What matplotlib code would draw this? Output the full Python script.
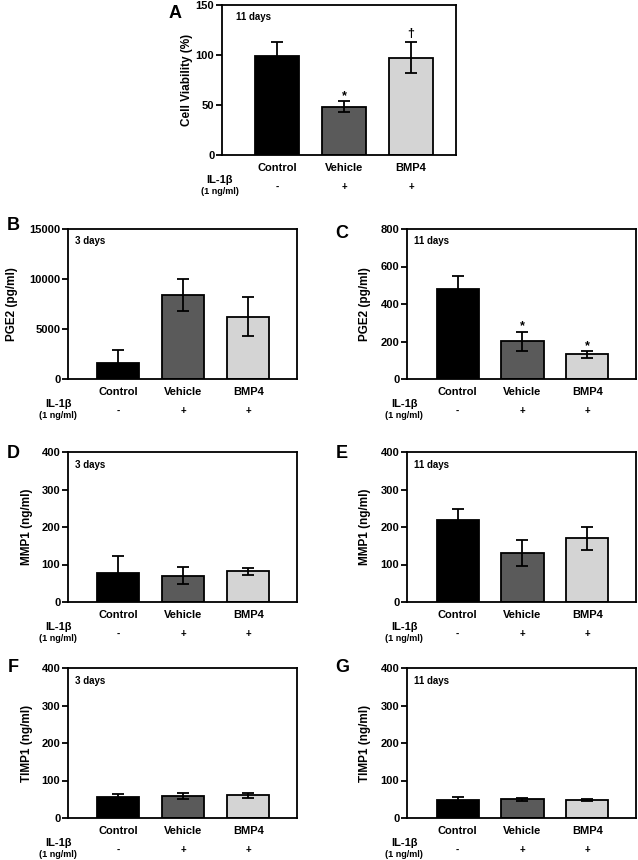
import matplotlib
matplotlib.use("Agg")
import matplotlib.pyplot as plt

plt.rcParams['font.family'] = ['Liberation Sans', 'DejaVu Sans']
plt.rcParams['font.weight'] = 'bold'

groups = ["Control", "Vehicle", "BMP4"]
il1b_signs = ["-", "+", "+"]
colors = ["#000000", "#5a5a5a", "#d4d4d4"]

# panel data: mean, sem
viab_mean = [99.5, 48.5, 97.5]
viab_err = [13.5, 5.5, 15.5]
pge2_3d_mean = [1600, 8450, 6250]
pge2_3d_err = [1290, 1600, 1950]
pge2_11d_mean = [482, 202, 131]
pge2_11d_err = [68, 51, 17]
mmp1_3d_mean = [77, 70, 82]
mmp1_3d_err = [46, 23, 9]
mmp1_11d_mean = [219, 131, 170]
mmp1_11d_err = [28, 35, 30]
timp1_3d_mean = [56, 58.5, 61]
timp1_3d_err = [8, 8, 7]
timp1_11d_mean = [48, 50.5, 49]
timp1_11d_err = [7, 4, 3]

W, H = 638, 860
fig = plt.figure(figsize=(W / 100, H / 100), dpi=100)


def px_axes(left, top, right, bottom):
    return fig.add_axes([left / W, 1 - bottom / H, (right - left) / W, (bottom - top) / H])


def panel(ax, means, errs, ymax, yticks, ylabel, days, xlim, il_x, lab_off,
          days_x=0.03, marks=None):
    x = list(range(len(groups)))
    ax.bar(x, means, width=0.65, color=colors, edgecolor="black", linewidth=1.3, zorder=2)
    ax.errorbar(x, means, yerr=errs, fmt="none", ecolor="black", elinewidth=1.3,
                capsize=4.6, capthick=1.3, zorder=3)
    ax.set_xlim(*xlim)
    ax.set_ylim(0, ymax)
    ax.set_yticks(yticks)
    ax.set_yticklabels([str(t) for t in yticks], fontsize=8, fontweight="bold")
    ax.set_xticks([])
    for s in ax.spines.values():
        s.set_linewidth(1.3)
    ax.tick_params(axis="y", length=4, width=1.3, pad=1.5)
    ax.set_ylabel(ylabel, fontsize=8.5, fontweight="bold")
    ax.yaxis.set_label_coords(lab_off, 0.5)
    ax.text(days_x, 0.95, days, transform=ax.transAxes, fontsize=7, fontweight="bold",
            va="top", ha="left")
    xt = ax.get_xaxis_transform()
    for xi, g, sg in zip(x, groups, il1b_signs):
        ax.text(xi, -0.085, g, transform=xt, ha="center", va="center",
                fontsize=8, fontweight="bold", clip_on=False)
        ax.text(xi, -0.215, sg, transform=xt, ha="center", va="center",
                fontsize=7, fontweight="bold", clip_on=False)
    ax.text(il_x, -0.165, "IL-1β", transform=xt, ha="center", va="center",
            fontsize=8, fontweight="bold", clip_on=False)
    ax.text(il_x, -0.245, "(1 ng/ml)", transform=xt, ha="center", va="center",
            fontsize=6.5, fontweight="bold", clip_on=False)
    if marks:
        for xi, (sym, yv) in marks.items():
            ax.text(xi, yv, sym, ha="center", va="center", fontsize=9, fontweight="bold")
    return ax


def letter(x, y, s):
    fig.text(x / W, 1 - y / H, s, fontsize=13, fontweight="bold", ha="center", va="center")


axA = px_axes(222, 5, 456, 155)
panel(axA, viab_mean, viab_err, 150, [0, 50, 100, 150], "Cell Viability (%)", "11 days",
      (-0.82, 2.67), -0.85, -0.124, days_x=0.06, marks={1: ("*", 59), 2: ("†", 121)})
letter(175, 13, "A")

axB = px_axes(68, 229, 297, 379)
panel(axB, pge2_3d_mean, pge2_3d_err, 15000, [0, 5000, 10000, 15000], "PGE2 (pg/ml)", "3 days",
      (-0.77, 2.75), -0.92, -0.218)
letter(13, 226, "B")

axC = px_axes(407, 229, 636, 379)
panel(axC, pge2_11d_mean, pge2_11d_err, 800, [0, 200, 400, 600, 800], "PGE2 (pg/ml)", "11 days",
      (-0.78, 2.75), -0.82, -0.157, marks={1: ("*", 283), 2: ("*", 175)})
letter(342, 233, "C")

axD = px_axes(68, 452, 297, 602)
panel(axD, mmp1_3d_mean, mmp1_3d_err, 400, [0, 100, 200, 300, 400], "MMP1 (ng/ml)", "3 days",
      (-0.77, 2.75), -0.92, -0.153)
letter(13, 453, "D")

axE = px_axes(407, 452, 636, 602)
panel(axE, mmp1_11d_mean, mmp1_11d_err, 400, [0, 100, 200, 300, 400], "MMP1 (ng/ml)", "11 days",
      (-0.78, 2.75), -0.82, -0.157)
letter(342, 453, "E")

axF = px_axes(68, 668, 297, 818)
panel(axF, timp1_3d_mean, timp1_3d_err, 400, [0, 100, 200, 300, 400], "TIMP1 (ng/ml)", "3 days",
      (-0.77, 2.75), -0.92, -0.153)
letter(13, 667, "F")

axG = px_axes(407, 668, 636, 818)
panel(axG, timp1_11d_mean, timp1_11d_err, 400, [0, 100, 200, 300, 400], "TIMP1 (ng/ml)", "11 days",
      (-0.78, 2.75), -0.82, -0.157)
letter(342, 667, "G")

fig.savefig("out.png", dpi=100)
